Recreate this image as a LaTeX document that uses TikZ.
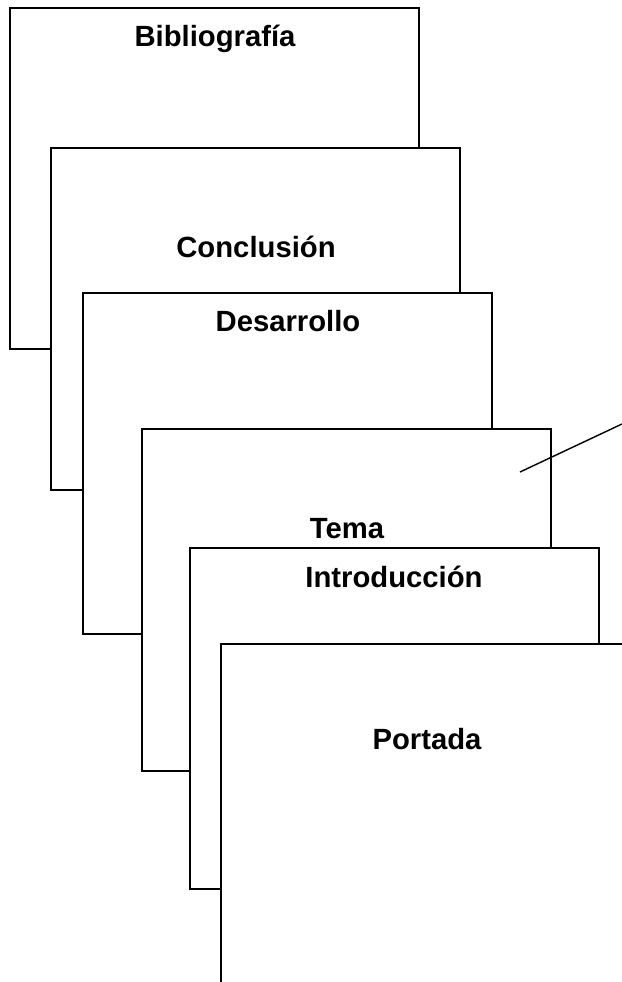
\documentclass[tikz,border=0pt]{standalone}
\usepackage{fontspec}
\setmainfont{Liberation Sans}
\usetikzlibrary{positioning}
\tikzset{
  page/.style={draw=black, fill=white, line width=1pt},
  pagetitle/.style={font=\fontsize{20.8}{25}\selectfont\bfseries, anchor=base, inner sep=0pt},
}

\begin{document}
\begin{tikzpicture}[x=0.025cm, y=-0.025cm]
  \clip (0,0) rectangle (622,982);
  \fill[white] (0,0) rectangle (622,982);
  % pages, back to front
  \filldraw[page] (10,8) rectangle ++(409,341);
  \node[pagetitle] (biblio) at (215,46) {Bibliografía};
  \filldraw[page] (51,148) rectangle ++(409,342);
  \node[pagetitle] (concl) at (256,257) {Conclusión};
  \filldraw[page] (83,293) rectangle ++(409,341);
  \node[pagetitle] (desarr) at (288,331) {Desarrollo};
  \filldraw[page] (142,429) rectangle ++(409,342);
  \node[pagetitle] (tema) at (347,538) {Tema};
  \filldraw[page] (190,548) rectangle ++(409,341);
  \node[pagetitle] (intro) at (394,587) {Introducción};
  \filldraw[page] (221,644) rectangle ++(409,341);
  \node[pagetitle] (portada) at (427,749) {Portada};
  % pointer line
  \coordinate (ptrA) at (520,472);
  \coordinate (ptrB) at (622,424);
  \draw[line width=1pt] (ptrA) -- (ptrB);
\end{tikzpicture}
\end{document}
